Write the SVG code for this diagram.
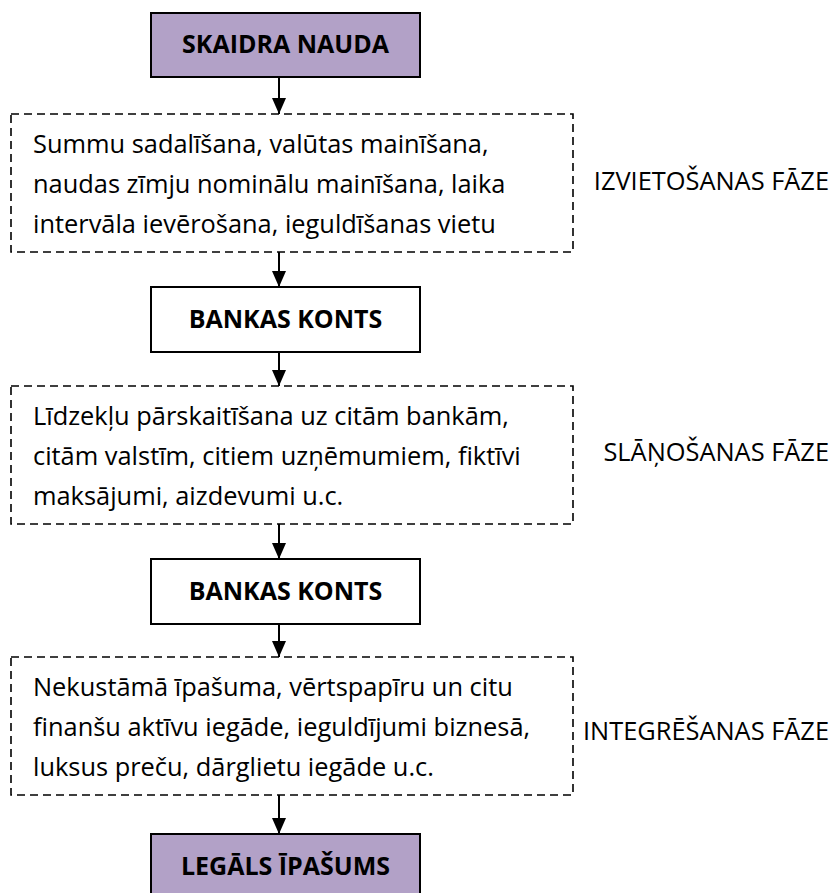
<svg xmlns="http://www.w3.org/2000/svg" width="832" height="893" viewBox="0 0 832 893">
  <style>
    .box { stroke: #000; stroke-width: 2; }
    .term { fill: #B2A1C7; }
    .acct { fill: #fff; }
    .step { fill: #fff; stroke: #000; stroke-width: 1.6; stroke-dasharray: 8 5; }
    .title { font-family: "Open Sans", "Liberation Sans", sans-serif; font-weight: bold; font-size: 25px; text-anchor: middle; fill: #000; }
    .body { font-family: "Open Sans", "Liberation Sans", sans-serif; font-size: 25.4px; fill: #000; }
    .phase { font-family: "Open Sans", "Liberation Sans", sans-serif; font-size: 25.4px; fill: #000; text-anchor: end; }
    .conn line { stroke: #000; stroke-width: 2; }
  </style>
  <defs>
    <marker id="arrow" viewBox="0 0 16 14" refX="16" refY="7" markerWidth="16" markerHeight="14" markerUnits="userSpaceOnUse" orient="auto">
      <path d="M0,0 L16,7 L0,14 z" fill="#000"/>
    </marker>
  </defs>

  <rect width="832" height="893" fill="#fff"/>

  <!-- vertical flow connectors -->
  <g id="connectors" class="conn">
    <line x1="279" y1="77" x2="279" y2="114" marker-end="url(#arrow)"/>
    <line x1="279" y1="252" x2="279" y2="287" marker-end="url(#arrow)"/>
    <line x1="279" y1="352" x2="279" y2="386" marker-end="url(#arrow)"/>
    <line x1="279" y1="524" x2="279" y2="559" marker-end="url(#arrow)"/>
    <line x1="279" y1="624" x2="279" y2="657" marker-end="url(#arrow)"/>
    <line x1="279" y1="795" x2="279" y2="834" marker-end="url(#arrow)"/>
  </g>

  <g id="skaidra-nauda">
    <rect class="box term" x="151" y="13" width="269" height="64"/>
    <text class="title" x="285.5" y="53">SKAIDRA NAUDA</text>
  </g>

  <g id="izvietosana">
    <rect class="step" x="11" y="114" width="562" height="138"/>
    <text class="body" x="33" y="153">Summu sadalīšana, valūtas mainīšana,</text>
    <text class="body" x="33" y="193">naudas zīmju nominālu mainīšana, laika</text>
    <text class="body" x="33" y="233">intervāla ievērošana, ieguldīšanas vietu</text>
  </g>
  <text class="phase" x="829" y="190">IZVIETOŠANAS FĀZE</text>

  <g id="bankas-konts-1">
    <rect class="box acct" x="151" y="287" width="269" height="65"/>
    <text class="title" x="285.5" y="328">BANKAS KONTS</text>
  </g>

  <g id="slanosana">
    <rect class="step" x="11" y="386" width="562" height="138"/>
    <text class="body" x="33" y="425">Līdzekļu pārskaitīšana uz citām bankām,</text>
    <text class="body" x="33" y="465">citām valstīm, citiem uzņēmumiem, fiktīvi</text>
    <text class="body" x="33" y="505">maksājumi, aizdevumi u.c.</text>
  </g>
  <text class="phase" x="829" y="461">SLĀŅOŠANAS FĀZE</text>

  <g id="bankas-konts-2">
    <rect class="box acct" x="151" y="559" width="269" height="65"/>
    <text class="title" x="285.5" y="600">BANKAS KONTS</text>
  </g>

  <g id="integresana">
    <rect class="step" x="11" y="657" width="562" height="138"/>
    <text class="body" x="33" y="696">Nekustāmā īpašuma, vērtspapīru un citu</text>
    <text class="body" x="33" y="736">finanšu aktīvu iegāde, ieguldījumi biznesā,</text>
    <text class="body" x="33" y="776">luksus preču, dārglietu iegāde u.c.</text>
  </g>
  <text class="phase" x="829" y="740">INTEGRĒŠANAS FĀZE</text>

  <g id="legals-ipasums">
    <rect class="box term" x="151" y="834" width="269" height="65"/>
    <text class="title" x="285.5" y="875">LEGĀLS ĪPAŠUMS</text>
  </g>
</svg>
